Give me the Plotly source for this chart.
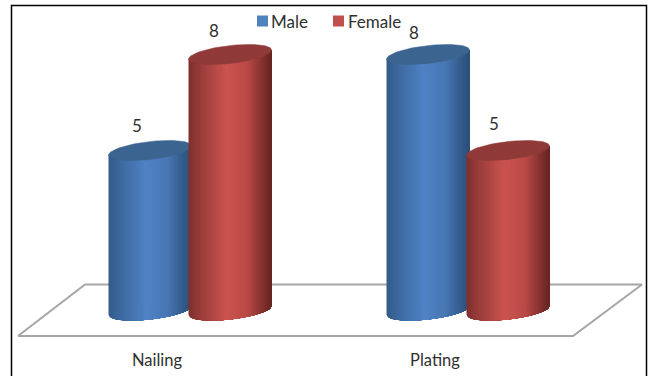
import numpy as np
import plotly.graph_objects as go

# Chart data
categories = ["Nailing", "Plating"]
series_names = ["Male", "Female"]
male_values = [5, 8]
female_values = [8, 5]

# Drawing scale: pixels per category step and per value unit
PX_X = 278.0
PX_Y = 32.0
WIDTH, HEIGHT = 653, 376
BOTTOM = 36
X0_PX, Y0_PX = 157.0, 310.5

x_range = [-X0_PX / PX_X, (WIDTH - X0_PX) / PX_X]
y_range = [(Y0_PX - (HEIGHT - BOTTOM)) / PX_Y, Y0_PX / PX_Y]


def dx(px):
    return px / PX_X


def dy(px):
    return px / PX_Y


def at_px(px, py):
    # Canvas position expressed in axis units, for decoration such as the floor and key
    return (px - X0_PX) / PX_X, (Y0_PX - py) / PX_Y


# Cylinder geometry
GROUP_OFFSET = dx(33)
HALF_GAP = dx(40)
RADIUS = 41.5
MINOR = 9.0
SHEAR = 0.11
STRIPS = 84

BLUE_STOPS = [(0.0, (52, 92, 140)), (0.12, (60, 104, 156)), (0.45, (80, 131, 198)),
              (0.7, (72, 120, 180)), (0.92, (50, 88, 134)), (1.0, (44, 78, 118))]
RED_STOPS = [(0.0, (128, 48, 46)), (0.12, (150, 60, 58)), (0.45, (204, 84, 80)),
             (0.7, (186, 74, 71)), (0.92, (122, 46, 44)), (1.0, (98, 36, 34))]
BLUE_TOP = "#3b6491"
RED_TOP = "#8f3a38"
BLUE_KEY = "#4f81bd"
RED_KEY = "#c0504d"


def shade(stops, f):
    xs = [s[0] for s in stops]
    return "rgb(%d,%d,%d)" % tuple(
        int(np.interp(f, xs, [s[1][i] for s in stops])) for i in range(3)
    )


def lower_edge(u):
    # Offset in px of the lower ellipse rim at u in [-1, 1], upward positive
    return SHEAR * RADIUS * u - MINOR * np.sqrt(np.clip(1 - u * u, 0, 1))


def cylinder(cx, value, stops, top_color):
    traces = []
    # Each strip runs to the right edge and the next one paints over it,
    # so neighbouring strips leave no seam.
    starts = np.linspace(-1, 1, STRIPS + 1)[:-1]
    for a in starts:
        us = np.linspace(a, 1, max(3, int((1 - a) * 30)))
        xs = cx + dx(RADIUS) * us
        low = dy(lower_edge(us))
        top = value + dy(SHEAR * RADIUS * us)
        color = shade(stops, (a + 1) / 2)
        traces.append(go.Scatter(
            x=np.r_[xs, xs[::-1], xs[0]],
            y=np.r_[low, top[::-1], low[0]],
            mode="lines", fill="toself", fillcolor=color,
            line=dict(width=0),
            hoverinfo="skip", showlegend=False,
        ))
    t = np.linspace(0, 2 * np.pi, 90)
    traces.append(go.Scatter(
        x=cx + dx(RADIUS) * np.cos(t),
        y=value + dy(SHEAR * RADIUS * np.cos(t) + MINOR * np.sin(t)),
        mode="lines", fill="toself", fillcolor=top_color,
        line=dict(color=top_color, width=0.5),
        hoverinfo="skip", showlegend=False,
    ))
    return traces


fig = go.Figure()

# Floor of the 3D scene
floor_px = [(18, 336), (573, 336), (642, 284.5), (85, 284.5), (18, 336)]
floor_xy = [at_px(*p) for p in floor_px]
fig.add_trace(go.Scatter(
    x=[p[0] for p in floor_xy],
    y=[p[1] for p in floor_xy],
    mode="lines", line=dict(color="#a6a6a6", width=2),
    hoverinfo="skip", showlegend=False,
))

# Cylinders, male first so the female one overlaps it
for i in range(len(categories)):
    c = i + GROUP_OFFSET
    for t in cylinder(c - HALF_GAP, male_values[i], BLUE_STOPS, BLUE_TOP):
        fig.add_trace(t)
    for t in cylinder(c + HALF_GAP, female_values[i], RED_STOPS, RED_TOP):
        fig.add_trace(t)

# Colour key along the top edge
key_px = [(262.5, 21), (338.5, 21)]
key_text_px = [269, 346]
for name, color, pos, text_x in zip(series_names, [BLUE_KEY, RED_KEY], key_px, key_text_px):
    kx, ky = at_px(*pos)
    fig.add_trace(go.Scatter(
        x=[kx], y=[ky], mode="markers", name=name,
        marker=dict(symbol="square", size=11, color=color),
        hoverinfo="skip", showlegend=False,
    ))
    tx, ty = at_px(text_x, 21.5)
    fig.add_annotation(x=tx, y=ty, text=name, showarrow=False, xanchor="left",
                       font=dict(size=17, color="#303030"))

# Value labels
label_nudge_x = [-13, -16, -14, -14]
label_nudge_y = [25, 24, 22, 27]
label_x = []
label_y = []
for i in range(len(categories)):
    label_x += [i + GROUP_OFFSET - HALF_GAP, i + GROUP_OFFSET + HALF_GAP]
    label_y += [male_values[i], female_values[i]]
for x, y, nx, ny in zip(label_x, label_y, label_nudge_x, label_nudge_y):
    fig.add_annotation(x=x, y=y, text=str(y), showarrow=False,
                       xshift=nx, yshift=ny, font=dict(size=17, color="#303030"))

fig.update_layout(
    width=WIDTH, height=HEIGHT,
    margin=dict(l=0, r=0, t=0, b=BOTTOM, autoexpand=False),
    paper_bgcolor="white", plot_bgcolor="white",
    font=dict(family="Lato", size=16.5, color="#303030"),
    showlegend=False,
    xaxis=dict(range=x_range, tickmode="array", tickvals=[0, 1], ticktext=categories,
               showgrid=False, zeroline=False, showline=False, ticks="", fixedrange=True,
               ticklabelstandoff=8),
    yaxis=dict(range=y_range, visible=False, showgrid=False, zeroline=False, fixedrange=True),
    shapes=[dict(
        type="path", xref="paper", yref="paper",
        path="M {l},{b} L {l},{t} L {r},{t} L {r},{b}".format(
            l=11.5 / WIDTH, r=646.5 / WIDTH,
            t=1 - 5.5 / (HEIGHT - BOTTOM), b=1 - 380 / (HEIGHT - BOTTOM)),
        line=dict(color="black", width=1.5),
    )],
)

fig.write_html("out.html", config={"displayModeBar": False})
